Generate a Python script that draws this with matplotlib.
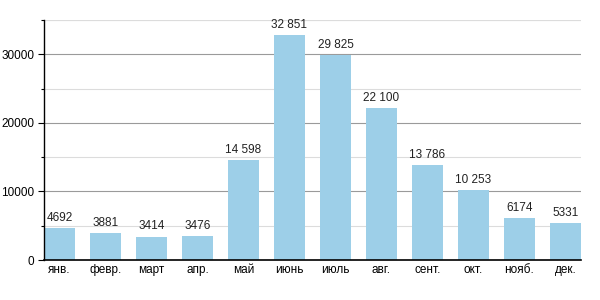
import matplotlib
matplotlib.use('Agg')
import matplotlib.pyplot as plt
from matplotlib.ticker import MultipleLocator

plt.rcParams['font.family'] = ['Liberation Sans', 'DejaVu Sans']

months = ['янв.', 'февр.', 'март', 'апр.', 'май', 'июнь', 'июль',
          'авг.', 'сент.', 'окт.', 'нояб.', 'дек.']
values = [4692, 3881, 3414, 3476, 14598, 32851, 29825,
          22100, 13786, 10253, 6174, 5331]


def fmt(v):
    # thousands separated by a space only above 9999
    if v >= 10000:
        return f"{v:,}".replace(',', ' ')
    return str(v)


fig = plt.figure(figsize=(6, 3), dpi=100)
ax = fig.add_axes([0.0733, 0.1333, 0.8950, 0.8000])

x = list(range(len(months)))
width = 0.674
ax.bar(x, values, width=width, color='#9dcfe8', zorder=2)

for xi, v in zip(x, values):
    ax.text(xi, v + 600, fmt(v), ha='center', va='bottom', fontsize=8.5, color='#222222')

ax.set_xlim(-width / 2, len(months) - 1 + width / 2)
ax.set_ylim(0, 35000)
ax.yaxis.set_major_locator(MultipleLocator(10000))
ax.yaxis.set_minor_locator(MultipleLocator(5000))
ax.set_xticks(x)
ax.set_xticklabels(months)

ax.grid(axis='y', which='major', color='#9a9a9a', linewidth=0.8, zorder=0)
ax.grid(axis='y', which='minor', color='#dcdcdc', linewidth=0.8, zorder=0)
# top line at 35000
ax.axhline(35000, color='#dcdcdc', linewidth=0.8, zorder=0)

for side in ['top', 'right']:
    ax.spines[side].set_visible(False)
ax.spines['left'].set_linewidth(1.0)
ax.spines['bottom'].set_linewidth(1.2)

ax.tick_params(axis='y', which='major', length=4, width=0.8, labelsize=8.5, pad=3)
ax.tick_params(axis='y', which='minor', length=2, width=0.8)
ax.tick_params(axis='x', length=0, labelsize=8.5, pad=3)

fig.savefig('out.png', dpi=100)
